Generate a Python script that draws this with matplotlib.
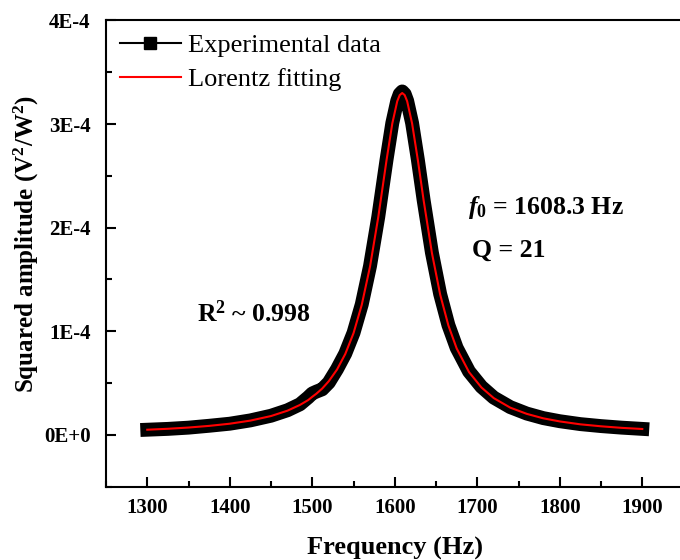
import sys  # Required for system functions

import numpy as np  # numpy for array maths
import matplotlib
matplotlib.use("Agg")  # No display in the sandbox
import matplotlib.pyplot as plt
from matplotlib.lines import Line2D
from matplotlib.ticker import FixedLocator, MultipleLocator

# Frequencies (Hz)
freq_hz = [1300, 1325, 1350, 1375, 1400, 1425, 1450, 1470, 1485, 1495, 1500,
           1505, 1512, 1520, 1530, 1540, 1550, 1560, 1570, 1580, 1590, 1597,
           1603, 1606, 1609, 1612, 1615, 1621, 1628, 1635, 1645, 1655, 1665,
           1675, 1690, 1705, 1720, 1740, 1760, 1780, 1800, 1825, 1850, 1875,
           1900]

# Experimental squared amplitude (units of 1E-4 V^2/W^2)
exp_amp = [0.050, 0.058, 0.070, 0.088, 0.108, 0.140, 0.185, 0.238, 0.295,
           0.362, 0.400, 0.418, 0.440, 0.505, 0.635, 0.785, 0.985, 1.260,
           1.630, 2.105, 2.655, 3.010, 3.225, 3.290, 3.315, 3.290, 3.225,
           3.010, 2.655, 2.265, 1.760, 1.360, 1.060, 0.840, 0.612, 0.465,
           0.360, 0.268, 0.206, 0.162, 0.132, 0.104, 0.085, 0.070, 0.058]

# Lorentz fitting curve (units of 1E-4 V^2/W^2)
fit_amp = [0.050, 0.059, 0.071, 0.087, 0.108, 0.138, 0.182, 0.234, 0.289,
           0.336, 0.368, 0.398, 0.447, 0.518, 0.631, 0.781, 0.982, 1.256,
           1.625, 2.102, 2.651, 3.006, 3.221, 3.280, 3.300, 3.280, 3.221,
           3.006, 2.651, 2.263, 1.757, 1.355, 1.056, 0.835, 0.606, 0.458,
           0.355, 0.263, 0.203, 0.160, 0.130, 0.102, 0.083, 0.068, 0.057]

x_ticks = [1300, 1400, 1500, 1600, 1700, 1800, 1900]
y_ticks = [0, 1e-4, 2e-4, 3e-4, 4e-4]
y_tick_labels = ["0E+0", "1E-4", "2E-4", "3E-4", "4E-4"]
legend_labels = ["Experimental data", "Lorentz fitting"]


def __main__():
    # Times-like serif everywhere, maths in the same bold serif
    plt.rcParams["font.family"] = ["Liberation Serif", "DejaVu Serif"]
    plt.rcParams["mathtext.fontset"] = "custom"
    plt.rcParams["mathtext.rm"] = "Liberation Serif:bold"
    plt.rcParams["mathtext.bf"] = "Liberation Serif:bold"
    plt.rcParams["mathtext.it"] = "Liberation Serif:italic:bold"
    plt.rcParams["mathtext.default"] = "rm"

    fig = plt.figure(figsize=(6.8, 5.6), dpi=100)
    # right edge runs a little past the canvas, as in the original crop
    ax = fig.add_axes([0.1559, 0.1309, 0.8493, 0.8325])

    f = np.array(freq_hz)
    ax.plot(f, np.array(exp_amp) * 1e-4, color="black", lw=10,
            solid_capstyle="projecting", solid_joinstyle="round")
    ax.plot(f, np.array(fit_amp) * 1e-4, color="red", lw=1.5)

    ax.set_xlim(1250, 1950)
    ax.set_ylim(-0.5e-4, 4e-4)

    ax.xaxis.set_major_locator(FixedLocator(x_ticks))
    ax.xaxis.set_minor_locator(MultipleLocator(50))
    ax.yaxis.set_major_locator(FixedLocator(y_ticks))
    ax.yaxis.set_minor_locator(MultipleLocator(0.5e-4))
    ax.set_yticklabels(y_tick_labels)

    ax.tick_params(which="both", direction="in", width=1.5,
                   top=False, right=False)
    ax.tick_params(which="major", length=7)
    ax.tick_params(which="minor", length=4)
    ax.tick_params(axis="x", labelsize=15, pad=8)
    ax.tick_params(axis="y", labelsize=15, pad=11)
    for lab in ax.get_xticklabels() + ax.get_yticklabels():
        lab.set_fontweight("bold")
    for sp in ax.spines.values():
        sp.set_linewidth(1.5)

    ax.set_xlabel("Frequency (Hz)", fontsize=19, fontweight="bold")
    ax.xaxis.set_label_coords(0.5, -0.108)
    ax.set_ylabel("Squared amplitude (V$^2$/W$^2$)", fontsize=18,
                  fontweight="bold")
    ax.yaxis.set_label_coords(-0.113, 0.52)

    # Legend: square marker on a thin line for the data
    handles = [Line2D([], [], color="black", lw=1.5, marker="s", ms=8.4),
               Line2D([], [], color="red", lw=1.5)]
    ax.legend(handles, legend_labels, loc="upper left",
              bbox_to_anchor=(0.024, 0.972), frameon=False, fontsize=19,
              borderaxespad=0, borderpad=0, handlelength=2.3,
              handletextpad=0.27, labelspacing=0.39)

    ax.text(0.627, 0.586, r"$\mathit{f}_0$ = 1608.3 Hz", transform=ax.transAxes,
            fontsize=18.5, fontweight="bold", va="baseline")
    ax.text(0.634, 0.493, "Q = 21", transform=ax.transAxes,
            fontsize=18.5, fontweight="bold", va="baseline")
    ax.text(0.157, 0.354, "R$^2$ ~ 0.998", transform=ax.transAxes,
            fontsize=18.5, fontweight="bold", va="baseline")

    fig.savefig("out.png", dpi=100)


if __name__ == "__main__":
    sys.exit(__main__())
